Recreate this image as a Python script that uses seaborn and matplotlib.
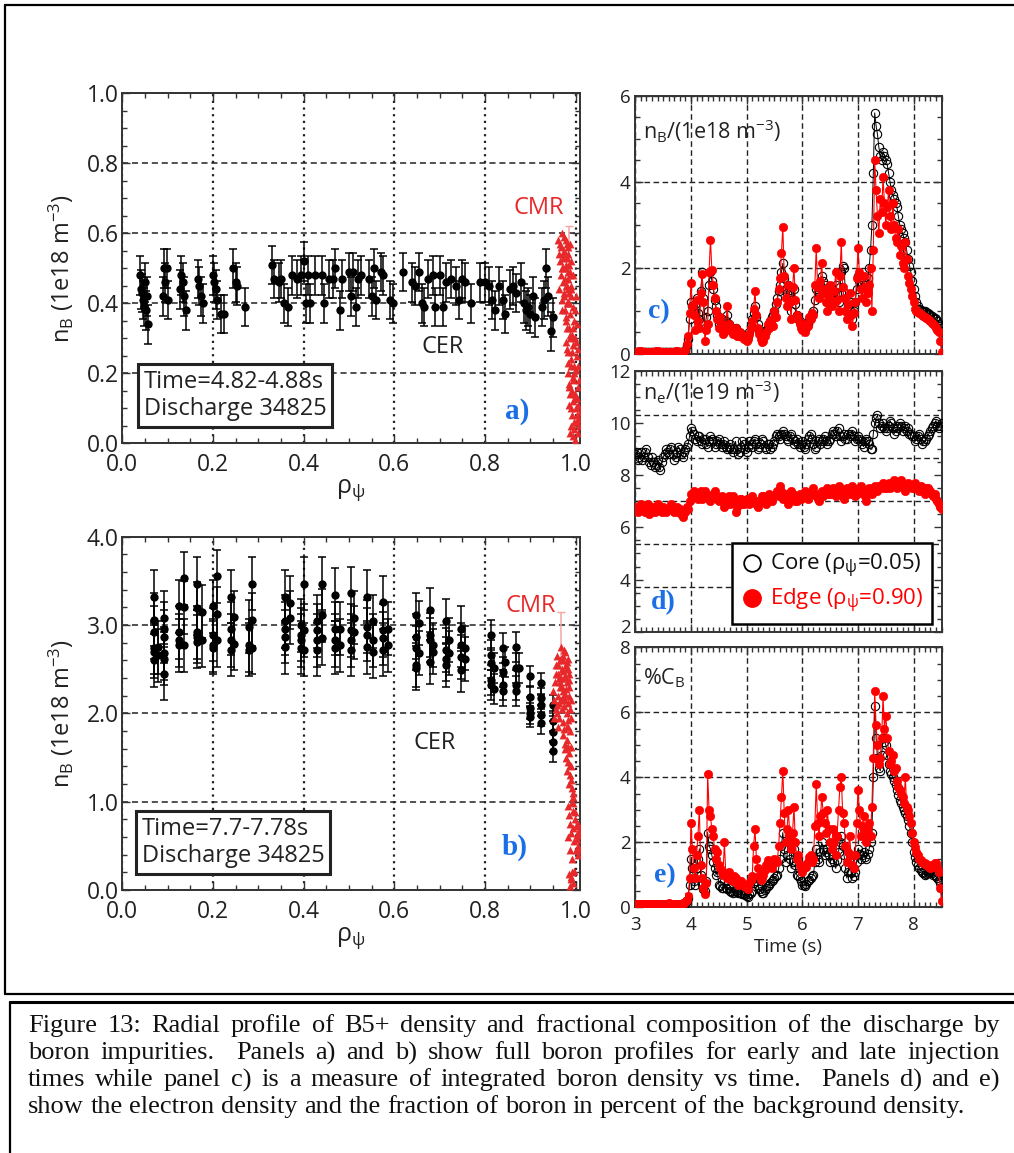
import numpy as np
import matplotlib
matplotlib.use("Agg")
import matplotlib.pyplot as plt
import matplotlib.transforms as mtransforms
import seaborn as sns
from matplotlib.ticker import MultipleLocator, FormatStrFormatter
from matplotlib.lines import Line2D

sns.set_theme(style="ticks")
plt.rcParams['font.family'] = ['Open Sans', 'DejaVu Sans']
plt.rcParams['mathtext.fontset'] = 'custom'
plt.rcParams['mathtext.rm'] = 'Open Sans'
plt.rcParams['mathtext.it'] = 'Open Sans:italic'
plt.rcParams['mathtext.bf'] = 'Open Sans:bold'
plt.rcParams['mathtext.default'] = 'regular'
plt.rcParams['axes.unicode_minus'] = False

# ---------------- radial profile, early window (panel a) ----------------
cer_a_rho = [
    0.040, 0.042, 0.044, 0.046, 0.048, 0.050, 0.052, 0.054, 0.056,
    0.090, 0.092, 0.095, 0.098, 0.100,
    0.128, 0.130, 0.133, 0.136, 0.140,
    0.167, 0.170, 0.173, 0.178,
    0.200, 0.203, 0.206, 0.210, 0.218, 0.224,
    0.245, 0.250, 0.254, 0.270,
    0.330, 0.335, 0.345, 0.350, 0.357, 0.365,
    0.375, 0.385, 0.395, 0.400, 0.405, 0.410, 0.415, 0.425,
    0.440, 0.445, 0.455, 0.465, 0.470, 0.480, 0.485,
    0.500, 0.505, 0.510, 0.515, 0.520, 0.527,
    0.545, 0.550, 0.555, 0.560, 0.570, 0.575,
    0.590, 0.598,
    0.620,
    0.640, 0.645, 0.655, 0.660, 0.665,
    0.675, 0.685, 0.690, 0.700, 0.708, 0.715,
    0.725, 0.735, 0.742, 0.750, 0.755,
    0.770,
    0.790, 0.800, 0.808, 0.815, 0.822, 0.830,
    0.840, 0.845, 0.855, 0.862, 0.868,
    0.880, 0.885, 0.890, 0.895, 0.900, 0.905, 0.910,
    0.925, 0.930, 0.935, 0.940, 0.945, 0.950]
cer_a_val = [
    0.48, 0.44, 0.43, 0.41, 0.39, 0.46, 0.38, 0.42, 0.34,
    0.42, 0.50, 0.46, 0.50, 0.41,
    0.44, 0.48, 0.46, 0.42, 0.38,
    0.47, 0.45, 0.42, 0.40,
    0.48, 0.46, 0.44, 0.41, 0.37, 0.37,
    0.50, 0.46, 0.45, 0.39,
    0.51, 0.47, 0.46, 0.47, 0.40, 0.39,
    0.48, 0.47, 0.48, 0.52, 0.40, 0.48, 0.40, 0.48,
    0.48, 0.40, 0.47, 0.47, 0.50, 0.38, 0.47,
    0.49, 0.42, 0.49, 0.39, 0.47, 0.48,
    0.47, 0.42, 0.50, 0.41, 0.49, 0.48,
    0.41, 0.40,
    0.49,
    0.46, 0.45, 0.49, 0.40, 0.39,
    0.47, 0.48, 0.39, 0.48, 0.39, 0.46,
    0.47, 0.45, 0.41, 0.47, 0.46,
    0.40,
    0.46, 0.46, 0.45, 0.41, 0.38, 0.45,
    0.41, 0.37, 0.44, 0.45, 0.43,
    0.46, 0.40, 0.38, 0.39, 0.37, 0.42, 0.36,
    0.39, 0.41, 0.50, 0.42, 0.32, 0.36]
cer_a_err = 0.055

cmr_a_rho = [
    0.962, 0.965, 0.968, 0.970, 0.972, 0.974, 0.976, 0.978, 0.980, 0.982, 0.984, 0.986, 0.988, 0.990,
    0.964, 0.967, 0.969, 0.971, 0.973, 0.975, 0.977, 0.979, 0.981, 0.983, 0.985, 0.987, 0.989,
    0.976, 0.979, 0.982, 0.985, 0.988, 0.991, 0.994, 0.997, 1.000, 1.003, 0.980,
    0.978, 0.981, 0.984, 0.987, 0.990, 0.993, 0.996, 0.999, 1.002, 1.005,
    0.983, 0.986, 0.989, 0.992, 0.995, 0.998, 1.001, 1.004, 1.007,
    0.985, 0.988, 0.991, 0.994, 0.997, 1.000, 1.003, 1.006, 1.009,
    0.987, 0.990, 0.993, 0.996, 0.999, 1.002, 1.005, 1.008,
    0.963, 0.966, 0.969, 0.972, 0.975, 0.978, 0.981, 0.984, 0.987, 0.990, 0.993,
    0.970, 0.974, 0.978, 0.982, 0.986, 0.990, 0.994, 0.998,
    0.980, 0.984, 0.988, 0.992, 0.996, 1.000, 1.004,
    0.986, 0.990, 0.994, 0.998, 1.002, 1.006]
cmr_a_val = [
    0.58, 0.52, 0.56, 0.60, 0.50, 0.55, 0.47, 0.58, 0.53, 0.49, 0.56, 0.51, 0.57, 0.52,
    0.44, 0.48, 0.41, 0.46, 0.53, 0.42, 0.50, 0.45, 0.40, 0.47, 0.43, 0.48, 0.44,
    0.38, 0.36, 0.40, 0.33, 0.37, 0.31, 0.39, 0.35, 0.42, 0.34, 0.45,
    0.29, 0.33, 0.26, 0.31, 0.24, 0.28, 0.22, 0.30, 0.25, 0.27,
    0.20, 0.17, 0.22, 0.15, 0.19, 0.13, 0.21, 0.16, 0.18,
    0.11, 0.14, 0.08, 0.12, 0.06, 0.10, 0.13, 0.07, 0.09,
    0.03, 0.05, 0.02, 0.04, 0.01, 0.06, 0.03, 0.05,
    0.54, 0.57, 0.50, 0.54, 0.59, 0.51, 0.57, 0.54, 0.49, 0.45, 0.48,
    0.38, 0.43, 0.35, 0.44, 0.40, 0.42, 0.33, 0.38,
    0.27, 0.23, 0.30, 0.26, 0.20, 0.29, 0.22,
    0.16, 0.10, 0.18, 0.14, 0.08, 0.11]
cmr_a_bar_rho, cmr_a_bar_val, cmr_a_bar_err = [0.986], [0.55], [0.07]

# ---------------- radial profile, late window (panel b) ----------------
cer_b_rho = [0.070, 0.078, 0.093, 0.126, 0.137, 0.164, 0.176, 0.200, 0.208,
             0.240, 0.247, 0.280, 0.287, 0.358, 0.370, 0.394, 0.400, 0.430,
             0.440, 0.470, 0.480, 0.504, 0.512, 0.540, 0.552, 0.575, 0.587,
             0.647, 0.655, 0.678, 0.686, 0.714, 0.720, 0.748, 0.756,
             0.813, 0.820, 0.840, 0.845, 0.868, 0.874,
             0.900, 0.923, 0.951]
cer_b_samples = [
    [3.32, 3.06, 2.92, 2.74, 2.70, 2.60], [2.75, 2.66],
    [3.08, 2.96, 2.87, 2.68, 2.62, 2.45], [3.21, 2.92, 2.83, 2.77],
    [3.20, 3.53, 2.77], [3.19, 3.47, 2.92, 2.87, 2.81], [3.15, 2.83],
    [3.21, 2.89, 2.77, 2.74], [3.55, 3.13, 2.83], [3.32, 2.96, 2.83, 2.72],
    [3.09, 2.79], [2.98, 2.77, 2.72], [3.47, 3.06, 2.74],
    [3.32, 3.04, 2.96, 2.87, 2.75], [3.25, 3.08], [3.00, 2.89, 2.83, 2.74],
    [3.47, 2.94, 2.72], [3.04, 2.94, 2.83, 2.72], [3.47, 3.11, 2.85],
    [3.34, 2.96, 2.83, 2.74], [2.96, 2.77], [3.36, 2.94, 2.83, 2.72],
    [3.08, 2.92], [3.32, 2.98, 2.89, 2.75], [3.04, 2.83, 2.70],
    [3.26, 2.94, 2.85, 2.72], [2.96, 2.77],
    [3.11, 2.87, 2.74, 2.55, 2.51], [2.68, 3.02], [3.17, 2.89, 2.83, 2.58],
    [2.77, 2.70], [3.04, 2.72, 2.62, 2.55], [2.83, 2.68],
    [2.96, 2.77, 2.64, 2.49], [2.74, 2.62],
    [2.89, 2.66, 2.57, 2.38, 2.32], [2.51, 2.28], [2.74, 2.47, 2.32, 2.25],
    [2.58], [2.75, 2.51, 2.32, 2.25], [2.51],
    [2.42, 2.19, 2.06, 2.00, 1.96], [2.34, 2.17, 2.09, 1.98, 1.89],
    [2.09, 1.91, 1.79, 1.68, 1.57]]
cer_b_err = [0.30] * 27 + [0.25] * 8 + [0.17] * 6 + [0.12] * 3

cmr_b_rho = [
    0.955, 0.958, 0.960, 0.962, 0.963, 0.965, 0.966, 0.968, 0.969, 0.970, 0.971, 0.972,
    0.973, 0.975, 0.976, 0.977, 0.978, 0.980, 0.981, 0.982, 0.984, 0.985, 0.986, 0.988,
    0.990, 0.957, 0.961, 0.967, 0.974, 0.979, 0.983, 0.987, 0.953, 0.959, 0.964, 0.972,
    0.972, 0.976, 0.980, 0.983, 0.986, 0.988, 0.990, 0.992, 0.978, 0.985, 0.994, 0.981,
    0.989, 0.975, 0.991,
    0.982, 0.985, 0.988, 0.990, 0.993, 0.995, 0.997, 0.999, 1.002, 1.004, 1.006, 1.008,
    1.005, 0.987, 0.992, 1.000, 0.984,
    0.986, 0.989, 0.992, 0.995, 0.990, 0.997, 0.988,
    0.950, 0.956, 0.959, 0.962, 0.965, 0.968, 0.971, 0.974, 0.977, 0.980, 0.983, 0.986, 0.989,
    0.952, 0.957, 0.963, 0.967, 0.970, 0.973, 0.976, 0.979, 0.982, 0.985,
    0.977, 0.980, 0.984, 0.987, 0.990, 0.993,
    0.995, 0.998, 1.001, 1.003, 1.007, 1.009]
cmr_b_val = [
    2.35, 2.10, 2.45, 2.20, 1.95, 2.60, 2.30, 2.75, 2.05, 2.50, 2.65, 2.25,
    1.90, 2.40, 2.70, 2.15, 2.55, 2.00, 2.35, 2.62, 1.85, 2.20, 2.45, 2.05,
    1.95, 2.55, 1.85, 2.40, 2.08, 2.28, 2.50, 1.80, 2.15, 2.65, 2.12, 2.48,
    1.75, 1.60, 1.70, 1.45, 1.55, 1.30, 1.40, 1.15, 1.50, 1.20, 1.05, 1.35,
    1.62, 1.82, 1.00,
    0.95, 0.85, 0.75, 0.65, 0.90, 0.70, 0.55, 0.80, 0.62, 0.75, 0.50, 0.68,
    0.40, 0.45, 0.35, 0.45, 0.60,
    0.18, 0.12, 0.20, 0.08, 0.15, 0.22, 0.05,
    2.25, 2.45, 2.00, 2.55, 2.35, 2.62, 2.18, 2.72, 2.42, 2.58, 2.12, 2.30, 2.15,
    1.95, 2.05, 2.40, 2.15, 2.30, 2.60, 2.22, 2.50, 1.92, 2.38,
    1.65, 1.85, 1.62, 1.42, 1.25, 1.10,
    0.98, 0.88, 0.72, 0.58, 0.62, 0.45]
cmr_b_bar_rho, cmr_b_bar_val, cmr_b_bar_err = [0.968], [2.75], [0.40]

# ---------------- time traces (panels c, d, e), 0.025 s samples ----------------
t_first, t_step, n_samples = 3.0, 0.025, 221
time_s = np.round(t_first + t_step * np.arange(n_samples), 3)

nb_edge = [
    0.05, 0.05, 0.05, 0.06, 0.06, 0.05, 0.05, 0.05, 0.05, 0.04, 0.04, 0.05, 0.05, 0.05, 0.05, 0.06, 0.06, 0.05, 0.05, 0.05,
    0.05, 0.05, 0.05, 0.05, 0.04, 0.05, 0.05, 0.05, 0.05, 0.06, 0.06, 0.05, 0.05, 0.05, 0.05, 0.06, 0.08, 0.22, 0.40, 0.95,
    1.65, 1.10, 0.90, 0.55, 1.25, 0.75, 0.60, 1.40, 1.85, 1.20, 0.30, 0.55, 0.70, 1.90, 2.65, 1.95, 1.60, 1.30, 1.00, 0.80,
    0.60, 0.85, 0.70, 0.45, 0.50, 0.65, 1.10, 0.70, 0.55, 0.60, 0.45, 0.50, 0.60, 0.42, 0.40, 0.50, 0.45, 0.38, 0.35, 0.40,
    0.30, 0.35, 0.45, 0.60, 0.75, 1.05, 1.45, 0.90, 0.60, 0.45, 0.35, 0.28, 0.30, 0.40, 0.50, 0.70, 0.60, 0.75, 0.80, 0.65,
    1.00, 0.85, 1.20, 1.50, 1.75, 2.35, 2.95, 1.80, 1.30, 1.10, 1.60, 1.20, 0.80, 1.55, 2.00, 1.25, 0.90, 0.80, 0.70, 0.60,
    0.55, 0.70, 0.50, 0.60, 0.65, 0.85, 0.80, 0.95, 0.90, 1.60, 2.45, 1.55, 1.30, 1.70, 2.10, 1.40, 1.50, 1.20, 1.00, 1.35,
    1.60, 1.10, 1.20, 1.45, 1.90, 1.25, 1.00, 1.80, 2.60, 1.55, 1.30, 1.00, 0.80, 1.15, 1.40, 0.90, 0.65, 0.95, 1.20, 1.75,
    2.45, 1.90, 1.50, 1.30, 1.80, 1.55, 1.20, 1.40, 1.60, 2.00, 1.00, 2.40, 4.50, 3.80, 3.20, 2.80, 3.60, 3.30, 4.10, 3.50,
    3.00, 3.40, 3.80, 3.20, 2.90, 3.50, 3.00, 2.70, 2.60, 2.90, 2.30, 2.50, 2.10, 2.00, 2.60, 2.20, 1.80, 1.65, 1.50, 1.35,
    1.20, 1.05, 1.00, 0.98, 0.95, 0.92, 0.90, 0.88, 0.85, 0.82, 0.80, 0.78, 0.75, 0.72, 0.70, 0.65, 0.60, 0.55, 0.50, 0.30,
    0.05]
nb_core = [
    0.05, 0.05, 0.05, 0.05, 0.05, 0.05, 0.05, 0.05, 0.05, 0.05, 0.05, 0.05, 0.05, 0.05, 0.05, 0.05, 0.05, 0.05, 0.05, 0.05,
    0.05, 0.05, 0.05, 0.05, 0.05, 0.05, 0.05, 0.05, 0.05, 0.05, 0.05, 0.05, 0.05, 0.05, 0.05, 0.05, 0.08, 0.20, 0.35, 0.80,
    1.20, 1.10, 1.00, 1.15, 1.30, 0.95, 0.80, 1.45, 1.90, 1.30, 0.60, 0.85, 1.00, 1.60, 1.90, 1.70, 1.50, 1.25, 1.10, 0.90,
    0.70, 0.75, 0.80, 0.65, 0.60, 0.75, 0.90, 0.70, 0.60, 0.55, 0.50, 0.55, 0.60, 0.50, 0.45, 0.48, 0.45, 0.42, 0.40, 0.38,
    0.35, 0.42, 0.50, 0.65, 0.80, 0.95, 1.10, 0.85, 0.70, 0.55, 0.45, 0.42, 0.40, 0.48, 0.55, 0.60, 0.65, 0.75, 0.85, 0.90,
    1.00, 1.15, 1.30, 1.45, 1.60, 1.90, 2.10, 1.75, 1.50, 1.40, 1.60, 1.30, 1.00, 1.25, 1.50, 1.15, 0.90, 0.80, 0.75, 0.68,
    0.60, 0.62, 0.60, 0.65, 0.70, 0.78, 0.85, 0.92, 1.00, 1.25, 1.50, 1.45, 1.40, 1.60, 1.80, 1.70, 1.60, 1.40, 1.20, 1.35,
    1.50, 1.40, 1.30, 1.45, 1.60, 1.40, 1.20, 1.55, 1.90, 2.05, 2.00, 1.40, 1.00, 1.10, 1.20, 1.00, 0.80, 1.00, 1.20, 1.50,
    1.80, 1.70, 1.60, 1.65, 1.70, 1.60, 1.50, 1.75, 2.00, 2.40, 3.00, 4.20, 5.60, 5.30, 5.10, 4.80, 4.60, 4.50, 4.70, 4.60,
    4.50, 4.40, 4.20, 4.00, 3.80, 3.70, 3.60, 3.50, 3.40, 3.20, 3.00, 2.90, 2.80, 2.70, 2.60, 2.40, 2.20, 2.05, 1.90, 1.70,
    1.50, 1.35, 1.20, 1.10, 1.05, 1.02, 1.00, 1.00, 1.00, 0.98, 0.95, 0.92, 0.90, 0.88, 0.85, 0.82, 0.80, 0.75, 0.70, 0.65,
    0.60]

ne_core = [
    8.8, 8.9, 8.6, 8.7, 8.9, 8.6, 8.7, 8.9, 9.0, 8.7, 8.5, 8.4, 8.7, 8.5, 8.3, 8.4, 8.6, 8.3, 8.2, 8.5,
    8.7, 8.8, 9.0, 8.9, 8.8, 9.0, 9.1, 8.8, 8.6, 8.7, 8.9, 9.1, 9.0, 8.8, 8.7, 8.9, 9.0, 9.1, 9.2, 9.5,
    9.8, 9.7, 9.6, 9.4, 9.3, 9.5, 9.5, 9.3, 9.2, 9.4, 9.4, 9.2, 9.1, 9.3, 9.5, 9.4, 9.3, 9.1, 9.2, 9.3,
    9.4, 9.2, 9.1, 9.2, 9.3, 9.1, 9.0, 9.1, 9.2, 9.0, 8.9, 9.0, 9.3, 9.0, 8.8, 8.9, 9.1, 9.3, 9.2, 9.0,
    8.9, 9.1, 9.3, 9.2, 9.1, 9.3, 9.4, 9.2, 9.0, 9.1, 9.2, 9.4, 9.3, 9.1, 9.0, 9.2, 9.2, 9.0, 9.1, 9.2,
    9.3, 9.5, 9.6, 9.5, 9.4, 9.6, 9.7, 9.6, 9.5, 9.4, 9.3, 9.5, 9.6, 9.4, 9.2, 9.3, 9.4, 9.2, 9.1, 9.2,
    9.3, 9.1, 9.0, 9.2, 9.4, 9.5, 9.6, 9.4, 9.2, 9.0, 9.1, 9.3, 9.4, 9.2, 9.3, 9.4, 9.5, 9.3, 9.2, 9.3,
    9.4, 9.6, 9.7, 9.6, 9.5, 9.7, 9.8, 9.5, 9.3, 9.5, 9.6, 9.4, 9.4, 9.6, 9.5, 9.6, 9.7, 9.5, 9.3, 9.4,
    9.5, 9.4, 9.3, 9.2, 9.1, 9.3, 9.4, 9.3, 9.2, 9.0, 9.0, 9.6, 10.0, 10.2, 10.3, 10.0, 9.8, 9.9, 10.0, 9.8,
    9.7, 9.8, 9.9, 10.1, 10.0, 9.8, 9.6, 9.7, 9.8, 9.9, 10.0, 9.9, 9.7, 9.8, 9.9, 9.7, 9.8, 9.6, 9.6, 9.5,
    9.5, 9.3, 9.4, 9.5, 9.6, 9.4, 9.2, 9.3, 9.3, 9.4, 9.5, 9.6, 9.7, 9.8, 9.9, 10.0, 10.1, 9.9, 9.8, 9.9,
    10.0]
ne_edge = [
    6.8, 6.7, 6.6, 6.8, 6.9, 6.7, 6.7, 6.6, 6.8, 6.9, 6.5, 6.6, 6.7, 6.8, 6.6, 6.7, 6.9, 6.8, 6.7, 6.6,
    6.8, 6.7, 6.6, 6.7, 6.7, 6.8, 6.9, 6.7, 6.6, 6.7, 6.8, 6.6, 6.7, 6.5, 6.4, 6.6, 6.6, 6.8, 6.7, 7.0,
    7.3, 7.2, 7.4, 7.3, 7.2, 7.1, 7.3, 7.4, 7.1, 7.2, 7.4, 7.3, 7.2, 7.1, 7.0, 7.2, 7.3, 7.4, 7.2, 7.1,
    7.0, 7.1, 7.2, 7.0, 6.8, 6.9, 7.1, 7.2, 6.9, 7.0, 7.2, 7.1, 6.6, 6.8, 7.0, 7.1, 7.1, 6.9, 6.9, 7.0,
    7.1, 7.0, 6.9, 7.1, 7.2, 7.0, 7.0, 6.9, 6.8, 7.0, 7.1, 7.2, 7.2, 7.0, 6.9, 7.1, 7.3, 7.1, 7.0, 7.2,
    7.2, 7.3, 7.4, 7.2, 7.6, 7.4, 7.1, 7.2, 7.3, 7.1, 6.9, 7.2, 7.4, 7.3, 7.2, 7.0, 7.0, 7.2, 7.3, 7.1,
    7.2, 7.3, 7.4, 7.2, 7.1, 7.3, 7.3, 7.4, 7.5, 7.3, 7.2, 7.1, 7.0, 7.3, 7.4, 7.2, 7.3, 7.4, 7.5, 7.3,
    7.3, 7.4, 7.5, 7.3, 7.2, 7.4, 7.6, 7.5, 7.4, 7.2, 7.1, 7.3, 7.5, 7.4, 7.3, 7.5, 7.6, 7.4, 7.2, 7.3,
    7.4, 7.5, 7.6, 7.4, 7.3, 7.2, 7.0, 7.3, 7.5, 7.4, 7.3, 7.5, 7.6, 7.5, 7.4, 7.6, 7.5, 7.6, 7.7, 7.5,
    7.5, 7.6, 7.7, 7.5, 7.6, 7.7, 7.8, 7.6, 7.5, 7.7, 7.7, 7.8, 7.6, 7.5, 7.4, 7.6, 7.7, 7.6, 7.6, 7.5,
    7.5, 7.7, 7.6, 7.5, 7.4, 7.6, 7.5, 7.4, 7.3, 7.5, 7.5, 7.4, 7.4, 7.3, 7.2, 7.3, 7.1, 7.0, 6.9, 6.8,
    6.7]

pct_edge = [
    0.10, 0.10, 0.10, 0.11, 0.11, 0.10, 0.10, 0.10, 0.10, 0.09, 0.09, 0.10, 0.10, 0.10, 0.10, 0.11, 0.11, 0.10, 0.10, 0.10,
    0.10, 0.10, 0.10, 0.11, 0.12, 0.11, 0.10, 0.10, 0.10, 0.11, 0.11, 0.10, 0.10, 0.11, 0.12, 0.13, 0.15, 0.22, 0.35, 0.90,
    2.60, 1.80, 1.20, 0.90, 1.60, 2.20, 3.00, 1.30, 0.90, 0.60, 0.40, 0.75, 4.10, 3.00, 2.80, 2.40, 2.20, 1.80, 1.50, 1.70,
    1.30, 1.20, 1.10, 1.00, 2.00, 1.05, 0.90, 1.10, 1.00, 0.85, 0.80, 0.95, 0.90, 0.75, 0.70, 0.80, 0.80, 0.70, 0.65, 0.70,
    0.60, 0.55, 0.75, 0.85, 0.95, 1.90, 2.40, 1.50, 1.20, 0.95, 0.85, 0.90, 1.00, 1.15, 1.30, 1.45, 1.40, 1.30, 1.20, 1.35,
    1.50, 1.45, 1.40, 1.90, 2.60, 3.40, 4.20, 2.90, 2.00, 2.40, 3.00, 2.20, 1.80, 2.30, 3.10, 2.00, 1.50, 1.60, 1.30, 1.20,
    1.10, 1.20, 1.30, 1.25, 1.40, 1.55, 1.60, 1.40, 1.50, 2.50, 3.80, 2.60, 2.20, 2.80, 3.40, 2.90, 2.60, 2.30, 3.00, 2.40,
    2.00, 1.80, 2.40, 2.00, 1.60, 2.20, 3.00, 3.70, 4.00, 2.90, 2.60, 1.90, 1.40, 1.70, 2.20, 1.60, 1.30, 1.20, 1.60, 2.60,
    3.60, 3.00, 2.20, 2.50, 2.80, 2.30, 2.00, 2.40, 2.60, 2.20, 3.10, 4.60, 6.65, 5.60, 5.00, 4.40, 4.60, 5.20, 6.50, 5.50,
    5.90, 5.20, 4.80, 4.40, 4.50, 4.70, 4.20, 4.30, 3.90, 3.70, 3.60, 3.50, 3.40, 3.20, 4.00, 3.10, 3.00, 2.80, 2.60, 2.30,
    2.00, 1.85, 1.70, 1.60, 1.50, 1.45, 1.40, 1.35, 1.35, 1.30, 1.30, 1.25, 1.20, 1.30, 1.25, 1.35, 1.35, 1.20, 1.10, 0.60,
    0.20]
pct_core = [
    0.08, 0.08, 0.08, 0.08, 0.08, 0.08, 0.08, 0.08, 0.08, 0.08, 0.08, 0.08, 0.08, 0.08, 0.08, 0.08, 0.08, 0.08, 0.08, 0.08,
    0.08, 0.08, 0.08, 0.08, 0.08, 0.08, 0.08, 0.08, 0.08, 0.08, 0.08, 0.08, 0.08, 0.08, 0.08, 0.08, 0.10, 0.18, 0.30, 0.70,
    1.50, 1.20, 0.80, 0.70, 1.20, 1.50, 1.80, 1.00, 0.70, 0.55, 0.50, 0.80, 2.30, 1.90, 1.80, 1.60, 1.40, 1.20, 1.00, 1.10,
    0.70, 0.65, 0.60, 0.58, 0.80, 0.60, 0.55, 0.60, 0.50, 0.48, 0.45, 0.50, 0.50, 0.47, 0.45, 0.44, 0.45, 0.42, 0.40, 0.38,
    0.35, 0.33, 0.40, 0.45, 0.50, 0.75, 0.90, 0.80, 0.70, 0.55, 0.50, 0.45, 0.45, 0.52, 0.60, 0.65, 0.70, 0.75, 0.80, 0.85,
    0.90, 0.95, 1.00, 1.20, 1.50, 1.90, 2.30, 1.80, 1.40, 1.60, 2.00, 1.50, 1.20, 1.40, 1.80, 1.30, 1.00, 0.95, 0.90, 0.80,
    0.70, 0.68, 0.65, 0.72, 0.80, 0.85, 0.90, 0.95, 1.00, 1.40, 1.80, 1.50, 1.40, 1.70, 2.00, 1.80, 1.60, 1.70, 1.80, 1.60,
    1.40, 1.50, 1.60, 1.40, 1.20, 1.45, 1.70, 2.00, 2.20, 1.90, 1.60, 1.20, 0.90, 1.10, 1.40, 1.10, 0.90, 0.95, 1.10, 1.40,
    1.80, 1.65, 1.50, 1.60, 1.70, 1.55, 1.50, 1.65, 1.80, 2.00, 2.30, 4.00, 6.20, 5.20, 4.60, 4.30, 4.20, 4.70, 5.20, 5.10,
    5.00, 4.70, 4.40, 4.20, 4.10, 4.00, 3.90, 3.75, 3.60, 3.45, 3.30, 3.20, 3.10, 3.00, 2.90, 2.80, 2.70, 2.50, 2.30, 2.00,
    1.70, 1.55, 1.40, 1.30, 1.20, 1.15, 1.10, 1.05, 1.00, 1.02, 1.05, 1.08, 1.10, 1.05, 1.00, 0.98, 0.95, 0.90, 0.85, 0.75,
    0.60]

# ---------------- figure layout (pixel boxes on a 1014 x 1153 canvas) ----------------
W, H = 1014.0, 1153.0
fig = plt.figure(figsize=(W / 100, H / 100), dpi=100)
fig.patch.set_facecolor('white')


def px_box(left, top, right, bottom):
    return [left / W, 1 - bottom / H, (right - left) / W, (bottom - top) / H]


ax_a = fig.add_axes(px_box(122.2, 93.3, 580.0, 443.3))
ax_b = fig.add_axes(px_box(122.2, 536.7, 580.0, 890.0))
ax_c = fig.add_axes(px_box(635.3, 95.7, 941.5, 353.7))
ax_d = fig.add_axes(px_box(635.3, 371.0, 941.5, 631.7))
ax_e = fig.add_axes(px_box(635.3, 647.3, 941.5, 907.3))

CMR_RED = '#e8292b'
TRACE_RED = '#ff0000'
LABEL_BLUE = '#1a6ee6'
DOT = (0, (1, 2))
DASH = (0, (4, 2.5))


def style_axes(ax, tick_fs, xpad, ypad):
    ax.set_facecolor('white')
    for s in ax.spines.values():
        s.set_linewidth(1.4)
        s.set_color('#333333')
    ax.tick_params(which='both', direction='in', top=True, right=True,
                   color='#333333', labelcolor='#222222', width=1.0)
    ax.tick_params(which='major', length=6, labelsize=tick_fs)
    ax.tick_params(which='minor', length=3.5)
    ax.tick_params(axis='x', pad=xpad)
    ax.tick_params(axis='y', pad=ypad)
    ax.set_axisbelow(True)


# ---------- panel a ----------
sns.scatterplot(x=cer_a_rho, y=cer_a_val, color='black', s=36, linewidth=0,
                ax=ax_a, zorder=4, legend=False)
ax_a.errorbar(cer_a_rho, cer_a_val, yerr=cer_a_err, fmt='none', ecolor='black',
              elinewidth=1.1, capsize=3, capthick=1.1, zorder=3)
ax_a.errorbar(cmr_a_bar_rho, cmr_a_bar_val, yerr=cmr_a_bar_err, fmt='none',
              ecolor='#f3a5a5', elinewidth=1.1, capsize=3, zorder=3)
sns.scatterplot(x=cmr_a_rho, y=cmr_a_val, color=CMR_RED, marker='^', s=32,
                linewidth=0, ax=ax_a, zorder=5, legend=False)

# ---------- panel b ----------
b_counts = [len(s) for s in cer_b_samples]
b_rho = np.repeat(cer_b_rho, b_counts)
b_val = np.concatenate([np.asarray(s) for s in cer_b_samples])
b_err = np.repeat(cer_b_err, b_counts)
ax_b.errorbar(b_rho, b_val, yerr=b_err, fmt='none', ecolor='black',
              elinewidth=1.1, capsize=3, capthick=1.1, zorder=3)
sns.scatterplot(x=b_rho, y=b_val, color='black', s=36, linewidth=0,
                ax=ax_b, zorder=4, legend=False)
ax_b.errorbar(cmr_b_bar_rho, cmr_b_bar_val, yerr=cmr_b_bar_err, fmt='none',
              ecolor='#f3a5a5', elinewidth=1.1, capsize=3, zorder=3)
sns.scatterplot(x=cmr_b_rho, y=cmr_b_val, color=CMR_RED, marker='^', s=32,
                linewidth=0, ax=ax_b, zorder=5, legend=False)

for ax, ymax, ymaj, ymin in [(ax_a, 1.0, 0.2, 0.05), (ax_b, 4.0, 1.0, 0.2)]:
    style_axes(ax, 16.5, 7, 2.5)
    ax.set_xlim(0, 1.0095)
    ax.set_ylim(0, ymax)
    ax.xaxis.set_major_locator(MultipleLocator(0.2))
    ax.xaxis.set_minor_locator(MultipleLocator(0.05))
    ax.yaxis.set_major_locator(MultipleLocator(ymaj))
    ax.yaxis.set_minor_locator(MultipleLocator(ymin))
    ax.xaxis.set_major_formatter(FormatStrFormatter('%.1f'))
    ax.yaxis.set_major_formatter(FormatStrFormatter('%.1f'))
    ax.xaxis.grid(True, which='major', linestyle=DOT, linewidth=1.6, color='#222222')
    ax.yaxis.grid(True, which='major', linestyle=DASH, linewidth=1.1, color='#222222')
    ax.set_ylabel('n$_B$ (1e18 m$^{-3}$)', fontsize=17, color='#222222', va='center')
    ax.yaxis.set_label_coords(-0.133, 0.5)
    ax.set_xlabel('ρ$_{ψ}$', fontsize=18, color='#222222')

ax_a.xaxis.set_label_coords(0.5, -0.095)
ax_b.xaxis.set_label_coords(0.5, -0.098)

# panel a annotations
ax_a.text(0.919, 0.671, 'CMR', color=CMR_RED, fontsize=17, ha='center', va='center')
ax_a.text(0.707, 0.276, 'CER', color='#222222', fontsize=17, ha='center', va='center')
ax_a.text(0.047, 0.137, 'Time=4.82-4.88s\nDischarge 34825', fontsize=17,
          color='#222222', ha='left', va='center', linespacing=1.15, zorder=6,
          bbox=dict(boxstyle='square,pad=0.25', fc='white', ec='#222222', lw=2.2))
ax_a.text(0.87, 0.09, 'a)', color=LABEL_BLUE, fontsize=21, fontweight='bold',
          family='Liberation Serif', ha='center', va='center')

# panel b annotations
ax_b.text(0.901, 3.21, 'CMR', color=CMR_RED, fontsize=17, ha='center', va='center')
ax_b.text(0.690, 1.66, 'CER', color='#222222', fontsize=17, ha='center', va='center')
ax_b.text(0.043, 0.54, 'Time=7.7-7.78s\nDischarge 34825', fontsize=17,
          color='#222222', ha='left', va='center', linespacing=1.15, zorder=6,
          bbox=dict(boxstyle='square,pad=0.25', fc='white', ec='#222222', lw=2.2))
ax_b.text(0.866, 0.48, 'b)', color=LABEL_BLUE, fontsize=21, fontweight='bold',
          family='Liberation Serif', ha='center', va='center')

# ---------- panels c, d, e ----------
core_kw = dict(color='black', marker='o', markersize=6, markerfacecolor='none',
               markeredgecolor='black', markeredgewidth=0.8, linewidth=0.7,
               estimator=None, sort=False, legend=False, zorder=3)
edge_kw = dict(color=TRACE_RED, marker='o', markersize=6, markerfacecolor=TRACE_RED,
               markeredgecolor=TRACE_RED, markeredgewidth=0.5, linewidth=0.8,
               estimator=None, sort=False, legend=False, zorder=4)

for ax, core, edge in [(ax_c, nb_core, nb_edge), (ax_d, ne_core, ne_edge),
                       (ax_e, pct_core, pct_edge)]:
    sns.lineplot(x=time_s, y=core, ax=ax, **core_kw)
    sns.lineplot(x=time_s, y=edge, ax=ax, **edge_kw)
    style_axes(ax, 13.5, 6, 3.5)
    ax.set_xlim(3.0, 8.5)
    ax.xaxis.set_major_locator(MultipleLocator(1))
    ax.xaxis.set_minor_locator(MultipleLocator(0.1))
    ax.xaxis.set_major_formatter(FormatStrFormatter('%d'))
    ax.yaxis.set_major_formatter(FormatStrFormatter('%d'))
    ax.yaxis.set_minor_locator(MultipleLocator(0.5))
    ax.xaxis.grid(True, which='major', linestyle=DASH, linewidth=1.0, color='#222222')
    ax.set_xlabel('')
    ax.set_ylabel('')

ax_c.set_ylim(0, 6)
ax_c.yaxis.set_major_locator(MultipleLocator(2))
ax_c.yaxis.grid(True, which='major', linestyle=DASH, linewidth=1.0, color='#222222')
ax_c.tick_params(labelbottom=False)

ax_d.set_ylim(2, 12)
ax_d.yaxis.set_major_locator(MultipleLocator(2))
for level in [10.31, 8.66, 7.01, 5.36, 3.71]:
    ax_d.axhline(level, linestyle=DASH, linewidth=1.0, color='#222222', zorder=1)
ax_d.tick_params(labelbottom=False)

ax_e.set_ylim(0, 8)
ax_e.yaxis.set_major_locator(MultipleLocator(2))
ax_e.yaxis.grid(True, which='major', linestyle=DASH, linewidth=1.0, color='#222222')
ax_e.set_xlabel('Time (s)', fontsize=13.5, color='#222222')
ax_e.xaxis.set_label_coords(0.5, -0.118)

ax_c.text(3.14, 5.16, 'n$_B$/(1e18 m$^{-3}$)', fontsize=15.5, color='#222222',
          ha='left', va='center', zorder=6)
ax_d.text(3.14, 11.16, 'n$_e$/(1e19 m$^{-3}$)', fontsize=15.5, color='#222222',
          ha='left', va='center', zorder=6)
ax_e.text(3.14, 7.05, '%C$_B$', fontsize=15.5, color='#222222',
          ha='left', va='center', zorder=6)

ax_c.text(3.43, 0.98, 'c)', color=LABEL_BLUE, fontsize=20, fontweight='bold',
          family='Liberation Serif', ha='center', va='center', zorder=6)
ax_d.text(3.51, 3.1, 'd)', color=LABEL_BLUE, fontsize=20, fontweight='bold',
          family='Liberation Serif', ha='center', va='center', zorder=6)
ax_e.text(3.53, 0.99, 'e)', color=LABEL_BLUE, fontsize=20, fontweight='bold',
          family='Liberation Serif', ha='center', va='center', zorder=6,
          bbox=dict(boxstyle='square,pad=0.35', fc='white', ec='none'))

handles = [
    Line2D([], [], linestyle='none', marker='o', markersize=12, markerfacecolor='none',
           markeredgecolor='black', markeredgewidth=1.3),
    Line2D([], [], linestyle='none', marker='o', markersize=12.5,
           markerfacecolor=TRACE_RED, markeredgecolor=TRACE_RED),
]
leg = ax_d.legend(handles, ['Core (ρ$_{ψ}$=0.05)', 'Edge (ρ$_{ψ}$=0.90)'],
                  loc='lower right', bbox_to_anchor=(0.968, 0.03), fontsize=16,
                  frameon=True, fancybox=False, framealpha=1, edgecolor='black',
                  handletextpad=0.3, borderpad=0.4, labelspacing=0.3,
                  handlelength=1.0, borderaxespad=0)
leg.get_frame().set_linewidth(1.8)
leg.set_zorder(7)
leg.get_texts()[0].set_color('#111111')
leg.get_texts()[1].set_color(TRACE_RED)

# ---------- outer frame and caption box ----------
def fig_line(xs_px, ys_px, lw):
    fig.add_artist(Line2D([x / W for x in xs_px], [1 - y / H for y in ys_px],
                          transform=fig.transFigure, color='black', linewidth=lw))


fig_line([5, 1014], [5, 5], 1.6)
fig_line([5, 5], [5, 994], 1.6)
fig_line([5, 1014], [994, 994], 1.6)
fig_line([10, 1014], [1002, 1002], 2.2)
fig_line([10, 10], [1002, 1153], 1.6)

caption_lines = [
    'Figure 13: Radial profile of B5+ density and fractional composition of the discharge by',
    'boron impurities.  Panels a) and b) show full boron profiles for early and late injection',
    'times while panel c) is a measure of integrated boron density vs time.  Panels d) and e)',
    'show the electron density and the fraction of boron in percent of the background density.',
]
caption_fs = 19
renderer = fig.canvas.get_renderer()
x_left, x_right = 28.0, 1000.0
for i, line in enumerate(caption_lines):
    y_px = 1026 + 27 * i
    tokens = line.split(' ')
    arts = [fig.text(0, 1 - y_px / H, tok, fontsize=caption_fs, family='Liberation Serif',
                     color='#111111', ha='left', va='center') for tok in tokens]
    widths = [a.get_window_extent(renderer).width if tok else 0.0
              for a, tok in zip(arts, tokens)]
    if i < len(caption_lines) - 1:
        gap = (x_right - x_left - sum(widths)) / (len(tokens) - 1)
    else:
        gap = 0.25 * caption_fs * 100 / 72
    x = x_left
    for a, w in zip(arts, widths):
        a.set_x(x / W)
        x += w + gap

# lift the lowest density label a little so it clears the panel below
fig.canvas.draw()
for tick in ax_d.yaxis.get_major_ticks():
    if tick.label1.get_text() == '2':
        tick.label1.set_transform(tick.label1.get_transform() +
                                  mtransforms.ScaledTranslation(0, 4 / 72, fig.dpi_scale_trans))

fig.savefig('out.png', dpi=100, facecolor='white')
